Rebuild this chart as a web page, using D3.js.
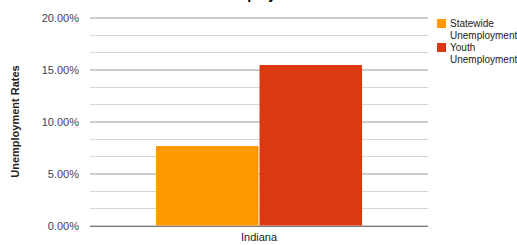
<!DOCTYPE html>
<html>
<head>
<meta charset="utf-8">
<script src="https://cdn.jsdelivr.net/npm/d3@7"></script>
<style>
	body { margin: 0; background: #fff; }
	text { font-family: Arial, "Liberation Sans", sans-serif; }
</style>
</head>
<body>
<svg id="chart" width="517" height="245"></svg>
<script>
// data
const categories = ["Indiana"];
const seriesNames = ["Statewide Unemployment", "Youth Unemployment"];
const legendLines = [["Statewide", "Unemployment"], ["Youth", "Unemployment"]];
const statewide = [0.0764];
const youth = [0.1543];
const yTicks = [0, 0.05, 0.10, 0.15, 0.20];
const colors = ["#ff9900", "#dc3912"];

const dims = { left: 90, right: 428, top: 17.5, bottom: 225.5 };

let svg = d3.select("#chart");

let y = d3.scaleLinear()
	.domain([0, 0.20])
	.range([dims.bottom, dims.top]);

let x = d3.scaleBand()
	.domain(categories)
	.range([dims.left, dims.right])
	.paddingInner(0)
	.paddingOuter(0.32);

let xs = d3.scaleBand()
	.domain(d3.range(seriesNames.length))
	.range([0, x.bandwidth()])
	.paddingInner(0.01);

// minor gridlines, 3 per major step
let minor = d3.range(0, 0.2001, 0.05 / 3).filter((d, i) => i % 3 !== 0);
svg.append("g")
	.selectAll("line")
	.data(minor)
	.enter()
	.append("line")
	.attr("x1", dims.left)
	.attr("x2", dims.right)
	.attr("y1", d => Math.round(y(d)) + 0.5)
	.attr("y2", d => Math.round(y(d)) + 0.5)
	.style("stroke", "#d6d6d6");

let yAxis = svg.append("g")
	.attr("transform", "translate(" + dims.left + ",0)")
	.call(d3.axisLeft(y).tickValues(yTicks).tickFormat(d3.format(".2%")).tickSize(-(dims.right - dims.left)).tickPadding(11));
yAxis.select(".domain").remove();
yAxis.selectAll(".tick line")
	.style("stroke", "#9a9a9a");
yAxis.selectAll(".tick text")
	.attr("font-size", 11)
	.style("fill", "#444");

// bars
let rows = categories.map((c, i) => ({ cat: c, vals: [statewide[i], youth[i]] }));
svg.append("g")
	.selectAll("g")
	.data(rows)
	.enter()
	.append("g")
	.attr("transform", d => "translate(" + x(d.cat) + ",0)")
	.selectAll("rect")
	.data(d => d.vals)
	.enter()
	.append("rect")
	.attr("x", (d, i) => xs(i))
	.attr("width", xs.bandwidth())
	.attr("y", d => y(d))
	.attr("height", d => y(0) - y(d))
	.style("fill", (d, i) => colors[i]);

// baseline
svg.append("line")
	.attr("x1", dims.left)
	.attr("x2", dims.right)
	.attr("y1", Math.round(y(0)) + 0.5)
	.attr("y2", Math.round(y(0)) + 0.5)
	.style("stroke", "#777");

// x labels
svg.append("g")
	.selectAll("text")
	.data(categories)
	.enter()
	.append("text")
	.attr("x", d => x(d) + x.bandwidth() / 2)
	.attr("y", 241)
	.attr("text-anchor", "middle")
	.attr("font-size", 11)
	.style("fill", "#222")
	.text(d => d);

// y axis title
svg.append("text")
	.attr("transform", "translate(19," + ((dims.top + dims.bottom) / 2) + ") rotate(-90)")
	.attr("text-anchor", "middle")
	.attr("font-size", 11)
	.attr("font-weight", "bold")
	.style("fill", "#222")
	.text("Unemployment Rates");

// title, mostly clipped at the top like the reference
svg.append("text")
	.attr("x", 259)
	.attr("y", -1)
	.attr("text-anchor", "middle")
	.attr("font-size", 14)
	.attr("font-weight", "bold")
	.style("fill", "#000")
	.text("Unemployment");

// legend
let legend = svg.append("g")
	.selectAll("g")
	.data(seriesNames)
	.enter()
	.append("g")
	.attr("transform", (d, i) => "translate(437," + (19 + i * 24) + ")");

legend.append("rect")
	.attr("width", 9)
	.attr("height", 9)
	.style("fill", (d, i) => colors[i]);

legend.append("text")
	.attr("font-size", 10)
	.style("fill", "#222")
	.selectAll("tspan")
	.data((d, i) => legendLines[i])
	.enter()
	.append("tspan")
	.attr("x", 13)
	.attr("y", (d, j) => 8 + j * 11.5)
	.text(d => d);
</script>
</body>
</html>
